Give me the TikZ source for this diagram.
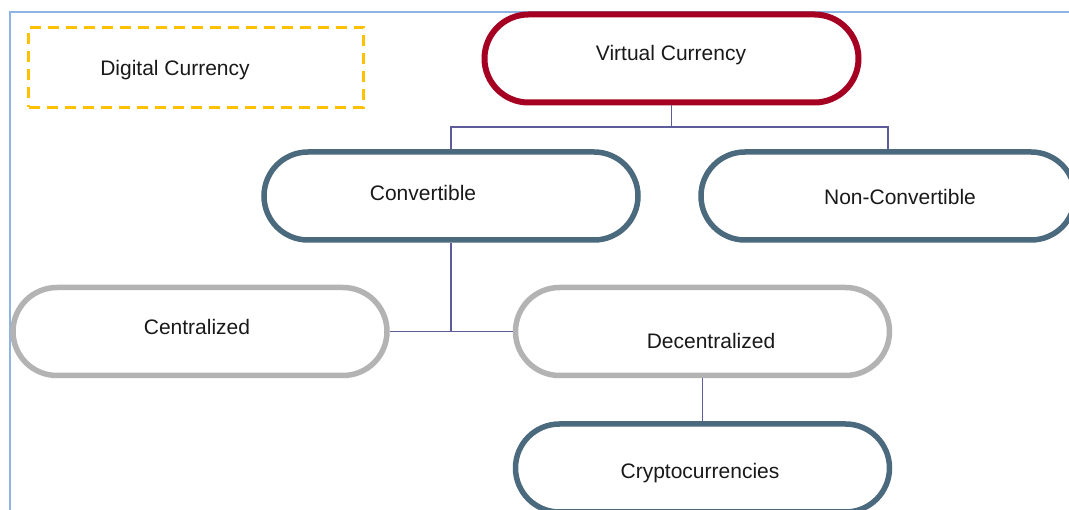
\documentclass[tikz,border=0pt]{standalone}
\usepackage{fontspec}
\setmainfont{Liberation Sans}
\definecolor{crimson}{HTML}{A50021}
\definecolor{slate}{HTML}{4B6A7E}
\definecolor{lgray}{HTML}{B3B3B3}
\definecolor{conn}{HTML}{5E5B9B}
\definecolor{frame}{HTML}{8DB4E2}
\definecolor{dash}{HTML}{FFC000}
\begin{document}
\begin{tikzpicture}[x=1pt,y=-1pt,
  pill/.style={draw,line width=5.5pt,fill=white,rounded corners=44pt,minimum width=374pt,minimum height=88pt,inner sep=0pt},
  txt/.style={font=\fontsize{21}{25}\selectfont,inner sep=0pt,text=black!90},
  link/.style={draw=conn,line width=1.5pt}]
\useasboundingbox (0,0) rectangle (1069,510);
\fill[white] (0,0) rectangle (1069,510);
\clip (0,0) rectangle (1069,510);
\draw[frame,line width=2pt] (10,530) -- (10,12) -- (1080,12);
\node[draw=dash,dash pattern=on 11pt off 7pt,line width=3pt,minimum width=335pt,minimum height=80pt,inner sep=0pt] (dig) at (196,67.5) {};
\node[txt] (digt) at (175,70) {Digital Currency};
% nodes
\node[pill,draw=crimson,line width=6pt] (vc) at (671.5,58.5) {};
\node[pill,draw=slate] (conv) at (451,196) {};
\node[pill,draw=slate] (nonc) at (888,196) {};
\node[pill,draw=lgray] (cent) at (200,331.5) {};
\node[pill,draw=lgray] (dec) at (702.5,331.5) {};
\node[pill,draw=slate] (cry) at (702.5,468) {};
% connectors
\coordinate (j1) at (671.5,127);
\draw[link] (vc.south) -- (j1);
\draw[link] (conv.north) |- (j1) -| (nonc.north);
\coordinate (j2) at (451,331);
\draw[link] (conv.south) -- (j2);
\draw[link] (cent.east) -- (dec.west);
\draw[link] (dec.south) -- (cry.north);
% texts
\node[txt] (vct) at (671,55) {Virtual Currency};
\node[txt] (convt) at (423,193) {Convertible};
\node[txt] (nonct) at (900,197) {Non-Convertible};
\node[txt] (centt) at (197,327) {Centralized};
\node[txt] (dect) at (711,341) {Decentralized};
\node[txt] (cryt) at (700,473) {Cryptocurrencies};
\end{tikzpicture}
\end{document}
